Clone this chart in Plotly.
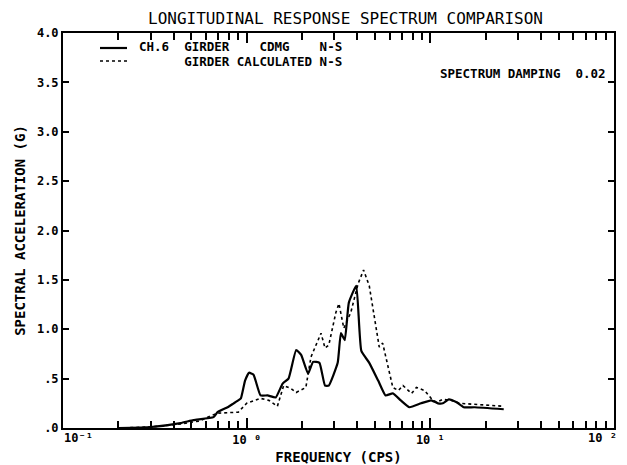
import plotly.graph_objects as go

# ---- data ----
freq_measured = [0.2, 0.3, 0.436, 0.513, 0.66, 0.694, 0.787, 0.85, 0.90, 0.93, 0.98, 1.03, 1.09, 1.19, 1.30, 1.44,
                 1.57, 1.69, 1.86, 1.98, 2.16, 2.30, 2.49, 2.67, 2.80, 3.13, 3.26, 3.42, 3.60, 3.95,
                 4.21, 4.65, 5.2, 5.7, 6.25, 6.9, 7.7, 8.9, 10.1, 11.0, 11.7, 12.6, 13.9, 15.2, 17.4, 25.1]
accel_measured = [0.0, 0.01, 0.05, 0.08, 0.11, 0.16, 0.21, 0.25, 0.28, 0.30, 0.48, 0.56, 0.54, 0.33, 0.33, 0.31,
                  0.45, 0.50, 0.79, 0.74, 0.55, 0.67, 0.66, 0.43, 0.43, 0.66, 0.96, 0.89, 1.27, 1.44,
                  0.78, 0.66, 0.48, 0.33, 0.35, 0.28, 0.21, 0.25, 0.28, 0.25, 0.25, 0.29, 0.26, 0.21, 0.21, 0.19]

freq_calc = [0.2, 0.3, 0.436, 0.55, 0.69, 0.81, 0.90, 1.0, 1.19, 1.32, 1.47, 1.59, 1.74, 1.86, 2.1,
             2.24, 2.33, 2.54, 2.67, 2.80, 3.06, 3.18, 3.38, 3.69, 4.04, 4.33, 4.65, 5.27, 5.5,
             6.25, 6.7, 7.1, 7.9, 8.4, 9.3, 10.1, 10.8, 11.7, 13.0, 14.4, 25.1]
accel_calc = [0.0, 0.01, 0.04, 0.07, 0.15, 0.16, 0.16, 0.25, 0.30, 0.28, 0.22, 0.43, 0.40, 0.36, 0.41,
              0.72, 0.79, 0.96, 0.81, 0.84, 1.17, 1.26, 1.01, 1.17, 1.46, 1.60, 1.44, 0.82, 0.86,
              0.41, 0.38, 0.43, 0.35, 0.41, 0.38, 0.30, 0.26, 0.29, 0.28, 0.25, 0.22]

x_tickvals = [0.1, 1, 10, 100]
x_ticktext = ["", "10 \u2070", "10 \u00b9", ""]
x_end_labels = ["10\u207b\u00b9", "10 \u00b2"]   # drawn at the two axis ends
x_minorvals = [0.2, 0.3, 0.4, 0.5, 0.6, 0.7, 0.8, 0.9, 2, 3, 4, 5, 6, 7, 8, 9,
               20, 30, 40, 50, 60, 70, 80, 90]
y_tickvals = [0, 0.5, 1.0, 1.5, 2.0, 2.5, 3.0, 3.5, 4.0]
y_ticktext = [".0", ".5", "1.0", "1.5", "2.0", "2.5", "3.0", "3.5", "4.0"]

legend_line1 = "CH.6  GIRDER    CDMG    N-S"
legend_line2 = "      GIRDER CALCULATED N-S"
title_text = "LONGITUDINAL RESPONSE SPECTRUM COMPARISON"
damping_text = "SPECTRUM DAMPING  0.02"

# ---- layout geometry ----
W, H = 627, 465
L, R, T, B = 63, 13, 33, 37
pw, ph = W - L - R, H - T - B

def px(x):
    return (x - L) / pw

def py(y):
    return (H - B - y) / ph

FONT = "DejaVu Sans Mono"
tick_font = dict(family=FONT, size=12, color="black", weight="bold")

fig = go.Figure()
fig.add_trace(go.Scatter(x=freq_measured, y=accel_measured, mode="lines",
                         line=dict(color="black", width=2.2, shape="spline", smoothing=0.4),
                         name="CH.6 GIRDER CDMG N-S", showlegend=False))
fig.add_trace(go.Scatter(x=freq_calc, y=accel_calc, mode="lines",
                         line=dict(color="black", width=1.6, dash="dot"),
                         name="GIRDER CALCULATED N-S", showlegend=False))

fig.update_xaxes(type="log", range=[-1, 2], tickmode="array", tickvals=x_tickvals, ticktext=x_ticktext,
                 ticks="inside", ticklen=10, tickwidth=1.5, tickcolor="black",
                 showline=True, linecolor="black", linewidth=2, mirror="ticks", showgrid=False, zeroline=False,
                 automargin=False,
                 tickfont=tick_font,
                 minor=dict(tickmode="array", tickvals=x_minorvals, ticks="inside", ticklen=7,
                            tickwidth=1.5, tickcolor="black", showgrid=False),
                 title=dict(text="FREQUENCY (CPS)", standoff=7,
                            font=dict(family=FONT, size=14, color="black", weight="bold")))
fig.update_yaxes(range=[0, 4], tickmode="array", tickvals=y_tickvals, ticktext=y_ticktext,
                 ticks="inside", ticklen=6, tickwidth=1.5, tickcolor="black",
                 showline=True, linecolor="black", linewidth=2, mirror="ticks", showgrid=False, zeroline=False,
                 automargin=False,
                 tickfont=tick_font,
                 title=dict(text="SPECTRAL ACCELERATION (G)", standoff=8,
                            font=dict(family=FONT, size=14, color="black", weight="bold")))

# end-of-axis decade labels
fig.add_annotation(xref="paper", yref="paper", x=px(62), y=py(438), text=x_end_labels[0],
                   showarrow=False, xanchor="left", yanchor="middle", font=tick_font)
fig.add_annotation(xref="paper", yref="paper", x=px(619), y=py(438), text=x_end_labels[1],
                   showarrow=False, xanchor="right", yanchor="middle", font=tick_font)

ann_font = dict(family=FONT, size=12.5, color="black", weight="bold")
fig.add_annotation(xref="paper", yref="paper", x=px(137), y=py(47), text=legend_line1.replace(" ", "&nbsp;"),
                   showarrow=False, xanchor="left", yanchor="middle", font=ann_font)
fig.add_annotation(xref="paper", yref="paper", x=px(137), y=py(61), text=legend_line2.replace(" ", "&nbsp;"),
                   showarrow=False, xanchor="left", yanchor="middle", font=ann_font)
fig.add_shape(type="line", xref="paper", yref="paper", x0=px(100), x1=px(127), y0=py(48), y1=py(48),
              line=dict(color="black", width=2.2))
fig.add_shape(type="line", xref="paper", yref="paper", x0=px(100), x1=px(127), y0=py(61), y1=py(61),
              line=dict(color="black", width=1.6, dash="dot"))
fig.add_annotation(xref="paper", yref="paper", x=px(608), y=py(73), text=damping_text.replace(" ", "&nbsp;"),
                   showarrow=False, xanchor="right", yanchor="middle", font=ann_font)
fig.add_annotation(xref="paper", yref="paper", x=px(345), y=py(18), text=title_text,
                   showarrow=False, xanchor="center", yanchor="middle",
                   font=dict(family=FONT, size=16, color="black"))

fig.update_layout(width=W, height=H, margin=dict(l=L, r=R, t=T, b=B),
                  paper_bgcolor="white", plot_bgcolor="white", showlegend=False)

fig.write_html("out.html")
